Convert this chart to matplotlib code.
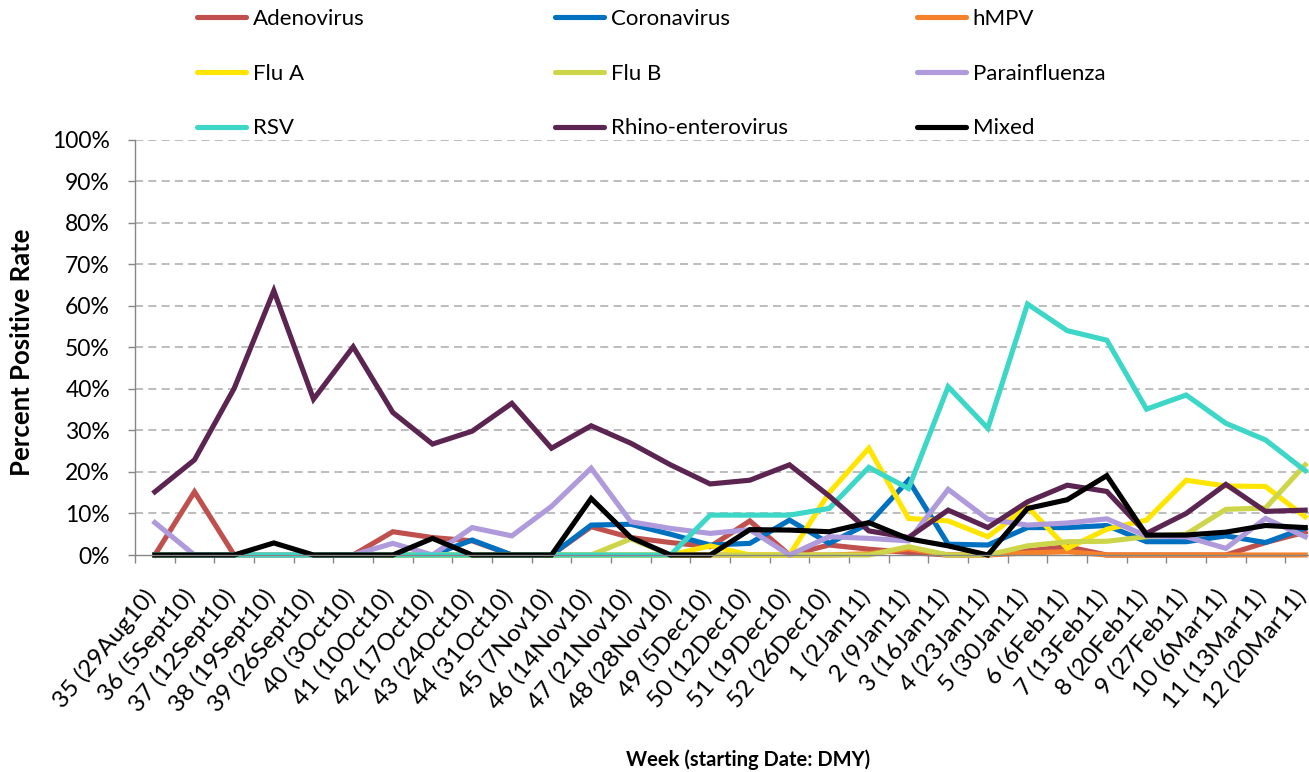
import matplotlib
matplotlib.use("Agg")
import matplotlib.pyplot as plt
from matplotlib.lines import Line2D
from matplotlib.transforms import ScaledTranslation
import numpy as np

plt.rcParams['font.family'] = ['Lato', 'DejaVu Sans']

weeks = ["35 (29Aug10)", "36 (5Sept10)", "37 (12Sept10)", "38 (19Sept10)", "39 (26Sept10)",
         "40 (3Oct10)", "41 (10Oct10)", "42 (17Oct10)", "43 (24Oct10)", "44 (31Oct10)",
         "45 (7Nov10)", "46 (14Nov10)", "47 (21Nov10)", "48 (28Nov10)", "49 (5Dec10)",
         "50 (12Dec10)", "51 (19Dec10)", "52 (26Dec10)", "1 (2Jan11)", "2 (9Jan11)",
         "3 (16Jan11)", "4 (23Jan11)", "5 (30Jan11)", "6 (6Feb11)", "7 (13Feb11)",
         "8 (20Feb11)", "9 (27Feb11)", "10 (6Mar11)", "11 (13Mar11)", "12 (20Mar11)"]

adenovirus = [0, 15.2, 0, 0, 0, 0, 5.6, 4.2, 3.4, 0, 0, 6.8, 4.2, 3.0, 2.0,
              8.2, 0, 2.4, 1.4, 0.6, 0, 0, 1.0, 2.0, 0, 0, 0, 0, 3.0, 5.5]
coronavirus = [0, 0, 0, 0, 0, 0, 0, 0, 3.6, 0, 0, 7.2, 7.4, 5.0, 2.4,
               2.8, 8.4, 2.8, 7.6, 18.0, 2.6, 2.4, 6.6, 6.6, 7.1, 3.2, 3.2, 4.6, 3.0, 6.5]
hmpv = [0, 0, 0, 0, 0, 0, 0, 0, 0, 0, 0, 0, 0, 0, 0,
        0, 0, 0, 0.3, 1.5, 0, 0, 0.5, 0.8, 0, 0, 0, 0, 0, 0]
flu_a = [0, 0, 0, 0, 0, 0, 0, 0, 0, 0, 0, 0, 0, 0, 2.2,
         0, 0, 15.0, 25.7, 8.8, 8.2, 4.4, 11.6, 1.6, 6.2, 8.4, 18.0, 16.6, 16.5, 9.2]
flu_b = [0, 0, 0, 0, 0, 0, 0, 0, 0, 0, 0, 0, 3.9, 0, 0,
         0, 0, 0, 0, 2.0, 0, 0, 2.2, 3.2, 3.3, 4.4, 5.0, 11.0, 11.3, 21.7]
parainfluenza = [7.8, 0, 0, 0, 0, 0, 2.8, 0, 6.6, 4.6, 11.7, 20.9, 8.0, 6.4, 5.2,
                 6.1, 0, 4.4, 4.0, 3.4, 15.8, 8.6, 7.2, 7.7, 8.7, 4.6, 4.4, 1.6, 8.8, 4.4]
rsv = [0, 0, 0, 0, 0, 0, 0, 0, 0, 0, 0, 0, 0, 0, 9.6,
       9.6, 9.6, 11.2, 21.1, 16.0, 40.5, 30.5, 60.4, 54.0, 51.7, 35.1, 38.5, 31.7, 27.7, 20.3]
rhino_enterovirus = [15.2, 22.9, 40.1, 63.6, 37.5, 50.1, 34.3, 26.7, 29.8, 36.5, 25.7, 31.1, 26.9, 21.7, 17.1,
                     18.0, 21.7, 14.2, 5.8, 4.2, 10.8, 6.6, 12.8, 16.8, 15.3, 5.2, 10.0, 17.0, 10.5, 10.8]
mixed = [0, 0, 0, 2.9, 0, 0, 0, 4.0, 0, 0, 0, 13.6, 4.2, 0, 0,
         6.1, 6.0, 5.6, 7.8, 3.9, 2.2, 0, 11.2, 13.3, 19.1, 4.8, 4.8, 5.5, 7.1, 6.6]

series_names = ["Adenovirus", "Coronavirus", "hMPV", "Flu A", "Flu B",
                "Parainfluenza", "RSV", "Rhino-enterovirus", "Mixed"]
series_values = [adenovirus, coronavirus, hmpv, flu_a, flu_b,
                 parainfluenza, rsv, rhino_enterovirus, mixed]
colors = ["#C0504D", "#0070C0", "#F5822A", "#FFE500", "#CDD64A",
          "#AF9ADB", "#3CD7C7", "#5C2450", "#000000"]

W, H = 1309, 772
fig = plt.figure(figsize=(W / 100, H / 100), dpi=100)
ax_left, ax_right, ax_top, ax_bottom = 135, 1325, 139.5, 555
ax = fig.add_axes([ax_left / W, (H - ax_bottom) / H, (ax_right - ax_left) / W, (ax_bottom - ax_top) / H])

x = np.arange(len(weeks))
lw = 3.7
for name, vals, c in zip(series_names, series_values, colors):
    ax.plot(x, vals, color=c, lw=lw, label=name, clip_on=False, solid_joinstyle='miter')

ax.set_xlim(-0.5, len(weeks) - 0.5)
ax.set_ylim(0, 100)

# grid
for v in range(10, 101, 10):
    ax.axhline(v, color="#BEBEBE", lw=1.45, linestyle=(0, (4.0, 2.6)), zorder=0)

ax.set_yticks(range(0, 101, 10))
ax.set_yticklabels([f"{v}%" for v in range(0, 101, 10)])
ax.tick_params(axis='y', length=5, width=1, color="#868686", pad=13, labelsize=16.5)

ax.set_xticks(x)
ax.set_xticklabels(weeks, rotation=50, ha='right', va='center', rotation_mode='anchor')
ax.tick_params(axis='x', which='major', length=0, pad=27, labelsize=17.5)
ax.set_xticks(np.arange(-0.5, len(weeks), 1.0), minor=True)
ax.tick_params(axis='x', which='minor', length=6, width=1, color="#868686")
shift = ScaledTranslation(-3 / 100, 0, fig.dpi_scale_trans)
for lab in ax.get_xticklabels():
    lab.set_transform(lab.get_transform() + shift)

for s in ['top', 'right']:
    ax.spines[s].set_visible(False)
for s in ['left', 'bottom']:
    ax.spines[s].set_color("#868686")
    ax.spines[s].set_linewidth(1)

fig.text(22 / W, 1 - 352 / H, "Percent Positive Rate", rotation=90, ha='center', va='center',
         fontsize=18.5, fontweight='bold')
fig.text(748 / W, 1 - 760 / H, "Week (starting Date: DMY)", ha='center', va='center',
         fontsize=14.5, fontweight='bold')

# legend in 3 columns
col_x = [197, 555, 917]
for ci in range(3):
    idx = [ci, ci + 3, ci + 6]
    handles = [Line2D([0], [0], color=colors[i], lw=lw, solid_capstyle='round') for i in idx]
    labels = [series_names[i] for i in idx]
    fig.legend(handles, labels, loc='upper left',
               bbox_to_anchor=(col_x[ci] / W, 1 - 9 / H),
               frameon=False, fontsize=16, borderpad=0, borderaxespad=0,
               handlelength=2.2, handletextpad=0.3, labelspacing=1.56)

fig.savefig("out.png", dpi=100)
